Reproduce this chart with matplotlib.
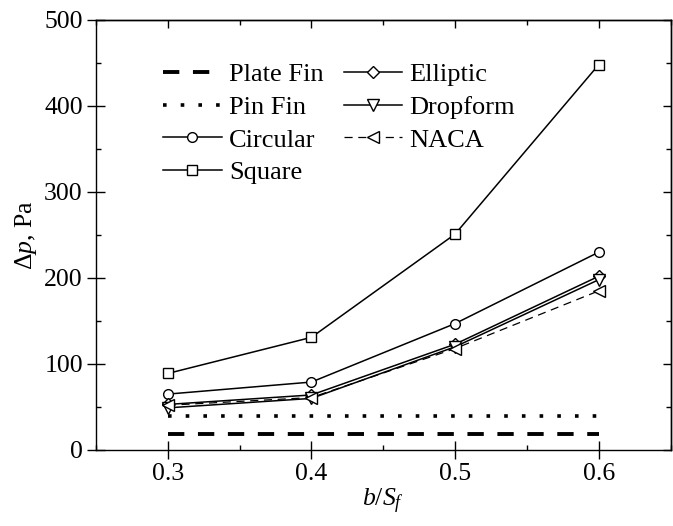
import matplotlib
matplotlib.use("Agg")
import matplotlib.pyplot as plt
from matplotlib.ticker import MultipleLocator

plt.rcParams['font.family'] = ['Liberation Serif', 'DejaVu Serif']
plt.rcParams['mathtext.fontset'] = 'custom'
plt.rcParams['mathtext.rm'] = 'Liberation Serif'
plt.rcParams['mathtext.it'] = 'Liberation Serif:italic'
plt.rcParams['font.size'] = 18.5

# pressure drop vs. fin ratio
b_sf = [0.3, 0.4, 0.5, 0.6]
plate_fin = [19, 19, 19, 19]
pin_fin = [39, 39, 39, 39]
circular = [65, 79, 147, 230]
square = [89, 131, 251, 448]
elliptic = [53, 64, 123, 202]
dropform = [49, 60, 120, 198]
naca = [52, 61, 118, 185]

fig = plt.figure(figsize=(6.73, 5.26), dpi=100)
ax = fig.add_axes([96/673, 1-450/526, 574.5/673, 430/526])

mk = dict(color='black', lw=1.1, ms=7, mfc='white', mew=1.0)
ax.plot(b_sf, plate_fin, color='black', lw=2.8, dashes=(4.2, 3.5), label='Plate Fin')
ax.plot(b_sf, pin_fin, color='black', lw=2.6, dashes=(1.0, 3.9), dash_capstyle='butt',
        label='Pin Fin')
ax.plot(b_sf, circular, marker='o', label='Circular', **mk)
ax.plot(b_sf, square, marker='s', label='Square', **dict(mk, ms=6.5))
ax.plot(b_sf, elliptic, marker='D', label='Elliptic', **dict(mk, ms=6))
ax.plot(b_sf, dropform, marker='v', label='Dropform', **dict(mk, ms=8))
ax.plot(b_sf, naca, marker='<', label='NACA', dashes=(6.5, 4.5), **dict(mk, lw=0.9, ms=8))

ax.set_xlim(0.25, 0.65)
ax.set_ylim(0, 500)
ax.xaxis.set_major_locator(MultipleLocator(0.1))
ax.xaxis.set_minor_locator(MultipleLocator(0.05))
ax.yaxis.set_major_locator(MultipleLocator(100))
ax.yaxis.set_minor_locator(MultipleLocator(50))
ax.tick_params(which='major', direction='inout', length=13, width=1.0, pad=3)
ax.tick_params(which='minor', direction='in', length=3.5, width=1.0)
for s in ax.spines.values():
    s.set_linewidth(1.0)

# inward ticks on top and right
top = ax.secondary_xaxis('top')
top.xaxis.set_major_locator(MultipleLocator(0.1))
top.xaxis.set_minor_locator(MultipleLocator(0.05))
top.tick_params(which='major', direction='in', length=6, width=1.0, labeltop=False)
top.tick_params(which='minor', direction='in', length=3.5, width=1.0)
right = ax.secondary_yaxis('right')
right.yaxis.set_major_locator(MultipleLocator(100))
right.yaxis.set_minor_locator(MultipleLocator(50))
right.tick_params(which='major', direction='in', length=6, width=1.0, labelright=False)
right.tick_params(which='minor', direction='in', length=3.5, width=1.0)
for sa in (top, right):
    for s in sa.spines.values():
        s.set_linewidth(1.0)

ax.set_xlabel(r'$b/S_f$', labelpad=1)
ax.set_ylabel(r'$\mathit{\Delta p}$, Pa', labelpad=4)

ax.legend(ncol=2, loc='upper left', bbox_to_anchor=(0.098, 0.925), frameon=False,
          fontsize=19, handlelength=2.23, handletextpad=0.27, columnspacing=0.76,
          labelspacing=0.35, numpoints=1, borderaxespad=0)

fig.savefig('out.png', dpi=100)
